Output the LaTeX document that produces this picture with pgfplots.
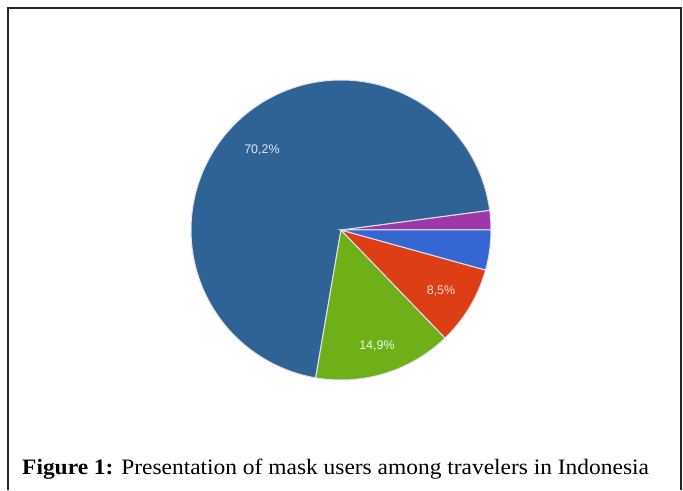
\documentclass[border=0pt]{standalone}
\usepackage{fontspec}
\setmainfont{Liberation Serif}
\newfontfamily\arial{Liberation Sans}
\usepackage{pgfplots}
\pgfplotsset{compat=1.18}
\definecolor{cdark}{RGB}{47,99,150}
\definecolor{cgreen}{RGB}{111,176,25}
\definecolor{cred}{RGB}{221,62,22}
\definecolor{cblue}{RGB}{52,103,210}
\definecolor{cpurple}{RGB}{158,56,168}
\definecolor{sep}{RGB}{225,225,240}
\begin{document}
\begin{tikzpicture}
\begin{axis}[x=1pt,y=1pt,xmin=0,xmax=683,ymin=0,ymax=490,hide axis,
  anchor=origin,at={(0,0)},clip=false]
\path (axis cs:0,0) rectangle (axis cs:683,490);
\draw[line width=1.3pt,black!85] (axis cs:8,0) -- (axis cs:8,482) -- (axis cs:681,482) -- (axis cs:681,0);
% slices: percentages 2.1, 70.2, 14.9, 8.5, 4.3 (3.6 degrees per percent)
\addplot[fill=cpurple,draw=sep,line width=1pt,domain=0:7.56,samples=10,variable=\t]
  ({341+150*cos(\t)},{260+150*sin(\t)}) -- (axis cs:341,260) -- cycle;
\addplot[fill=cdark,draw=sep,line width=1pt,domain=7.56:260.28,samples=150,variable=\t]
  ({341+150*cos(\t)},{260+150*sin(\t)}) -- (axis cs:341,260) -- cycle;
\addplot[fill=cgreen,draw=sep,line width=1pt,domain=260.28:313.92,samples=40,variable=\t]
  ({341+150*cos(\t)},{260+150*sin(\t)}) -- (axis cs:341,260) -- cycle;
\addplot[fill=cred,draw=sep,line width=1pt,domain=313.92:344.52,samples=30,variable=\t]
  ({341+150*cos(\t)},{260+150*sin(\t)}) -- (axis cs:341,260) -- cycle;
\addplot[fill=cblue,draw=sep,line width=1pt,domain=344.52:360,samples=15,variable=\t]
  ({341+150*cos(\t)},{260+150*sin(\t)}) -- (axis cs:341,260) -- cycle;
\node[text=white!90!blue,font=\arial\fontsize{12.5}{14}\selectfont] at (axis cs:262,340) {70,2\%};
\node[text=white!90!green,font=\arial\fontsize{12.5}{14}\selectfont] at (axis cs:377,144) {14,9\%};
\node[text=white!85!red,font=\arial\fontsize{12.5}{14}\selectfont] at (axis cs:441,199) {8,5\%};
\node[anchor=base west,inner sep=0pt,font=\fontsize{22}{24}\selectfont] at (axis cs:22,16) {\scalebox{1.065}[1]{\textbf{Figure 1:} Presentation of mask users among travelers in Indonesia}};
\end{axis}
\end{tikzpicture}
\end{document}
